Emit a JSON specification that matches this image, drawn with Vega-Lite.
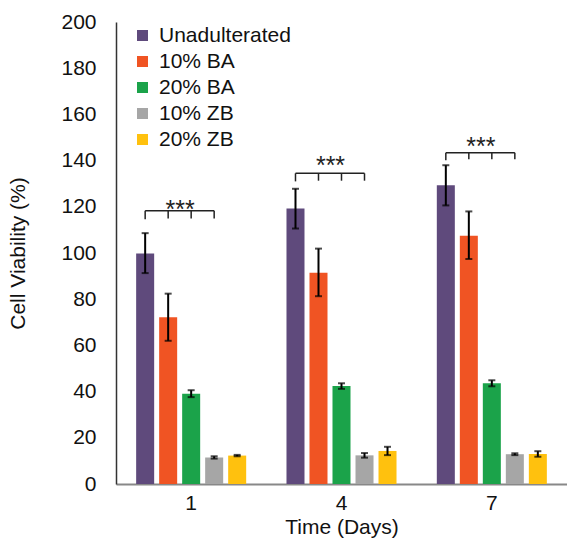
{
  "$schema": "https://vega.github.io/schema/vega-lite/v6.json",
  "autosize": {"type": "none"},
  "padding": {"left": 116, "top": 22, "right": 0, "bottom": 57},
  "width": 451,
  "height": 462,
  "background": "white",
  "config": {
    "view": {"stroke": null},
    "font": "Liberation Sans",
    "axis": {"labelFont": "Liberation Sans", "titleFont": "Liberation Sans", "labelColor": "#111", "titleColor": "#111", "titleFontWeight": "normal", "grid": false, "tickSize": 0},
    "legend": {"labelFont": "Liberation Sans"}
  },
  "datasets": {
    "bars": [
      {"day": "1", "group": "Unadulterated", "value": 99.8, "lo": 91.3, "hi": 108.6},
      {"day": "1", "group": "10% BA", "value": 72.2, "lo": 62.0, "hi": 82.4},
      {"day": "1", "group": "20% BA", "value": 39.1, "lo": 37.6, "hi": 40.6},
      {"day": "1", "group": "10% ZB", "value": 11.5, "lo": 11.0, "hi": 12.0},
      {"day": "1", "group": "20% ZB", "value": 12.3, "lo": 12.0, "hi": 12.6},
      {"day": "4", "group": "Unadulterated", "value": 119.3, "lo": 110.6, "hi": 127.8},
      {"day": "4", "group": "10% BA", "value": 91.5, "lo": 81.3, "hi": 101.9},
      {"day": "4", "group": "20% BA", "value": 42.4, "lo": 41.2, "hi": 43.6},
      {"day": "4", "group": "10% ZB", "value": 12.4, "lo": 11.4, "hi": 13.4},
      {"day": "4", "group": "20% ZB", "value": 14.3, "lo": 12.5, "hi": 16.1},
      {"day": "7", "group": "Unadulterated", "value": 129.3, "lo": 120.6, "hi": 138.0},
      {"day": "7", "group": "10% BA", "value": 107.5, "lo": 97.4, "hi": 118.0},
      {"day": "7", "group": "20% BA", "value": 43.6, "lo": 42.3, "hi": 44.9},
      {"day": "7", "group": "10% ZB", "value": 12.9, "lo": 12.5, "hi": 13.3},
      {"day": "7", "group": "20% ZB", "value": 13.0, "lo": 11.8, "hi": 14.2}
    ],
    "ticks": [
      {"day": "1", "group": "Unadulterated", "top": 118.3, "bottom": 114.6},
      {"day": "1", "group": "10% BA", "top": 118.3, "bottom": 114.9},
      {"day": "1", "group": "20% BA", "top": 118.3, "bottom": 114.9},
      {"day": "1", "group": "10% ZB", "top": 118.3, "bottom": 114.9},
      {"day": "4", "group": "Unadulterated", "top": 134.5, "bottom": 131.0},
      {"day": "4", "group": "10% BA", "top": 134.5, "bottom": 131.3},
      {"day": "4", "group": "20% BA", "top": 134.5, "bottom": 131.3},
      {"day": "4", "group": "10% ZB", "top": 134.5, "bottom": 131.3},
      {"day": "7", "group": "Unadulterated", "top": 143.4, "bottom": 140.2},
      {"day": "7", "group": "10% BA", "top": 143.4, "bottom": 140.6},
      {"day": "7", "group": "20% BA", "top": 143.4, "bottom": 140.6},
      {"day": "7", "group": "10% ZB", "top": 143.4, "bottom": 140.6}
    ],
    "stars": [
      {"day": "1", "group": "20% BA", "y": 120.0, "label": "***"},
      {"day": "4", "group": "20% BA", "y": 139.0, "label": "***"},
      {"day": "7", "group": "20% BA", "y": 147.2, "label": "***"}
    ]
  },
  "encoding": {
    "x": {
      "field": "day", "type": "nominal",
      "scale": {"domain": ["1", "4", "7"], "paddingInner": 0, "paddingOuter": 0},
      "axis": {"title": "Time (Days)", "labelAngle": 0, "labelFontSize": 21, "titleFontSize": 21, "labelPadding": 8, "titlePadding": 3, "domainColor": "#888", "domainWidth": 2}
    },
    "xOffset": {
      "field": "group", "type": "nominal",
      "scale": {"domain": ["Unadulterated", "10% BA", "20% BA", "10% ZB", "20% ZB"], "paddingInner": 0.217, "paddingOuter": 0.876}
    }
  },
  "layer": [
    {
      "data": {"name": "bars"},
      "mark": {"type": "bar"},
      "encoding": {
        "y": {
          "field": "value", "type": "quantitative",
          "scale": {"domain": [0, 200], "nice": false},
          "axis": {"title": "Cell Viability (%)", "values": [0, 20, 40, 60, 80, 100, 120, 140, 160, 180, 200], "labelFontSize": 21, "titleFontSize": 21, "labelPadding": 20, "titlePadding": 32, "domainColor": "#333", "domainWidth": 1.5}
        },
        "color": {
          "field": "group", "type": "nominal",
          "scale": {"domain": ["Unadulterated", "10% BA", "20% BA", "10% ZB", "20% ZB"], "range": ["#5F4A7C", "#F05423", "#1BA34A", "#A6A6A6", "#FFC10E"]},
          "legend": {"title": null, "orient": "none", "legendX": 16, "legendY": 3, "symbolType": "square", "symbolSize": 121, "symbolStrokeWidth": 0, "labelFontSize": 21, "labelOffset": 6, "rowPadding": 4, "padding": 0, "labelColor": "#111"}
        }
      }
    },
    {
      "data": {"name": "bars"},
      "mark": {"type": "rule", "color": "black", "strokeWidth": 2},
      "encoding": {
        "y": {"field": "lo", "type": "quantitative"},
        "y2": {"field": "hi"}
      }
    },
    {
      "data": {"name": "bars"},
      "mark": {"type": "tick", "color": "black", "thickness": 2, "size": 7},
      "encoding": {"y": {"field": "lo", "type": "quantitative"}}
    },
    {
      "data": {"name": "bars"},
      "mark": {"type": "tick", "color": "black", "thickness": 2, "size": 7},
      "encoding": {"y": {"field": "hi", "type": "quantitative"}}
    },
    {
      "data": {"name": "ticks"},
      "mark": {"type": "rule", "color": "#222", "strokeWidth": 1.5},
      "encoding": {
        "y": {"field": "top", "type": "quantitative"},
        "y2": {"field": "bottom"}
      }
    },
    {
      "data": {"name": "ticks"},
      "transform": [{"filter": "datum.group === 'Unadulterated' || datum.group === '10% ZB'"}],
      "mark": {"type": "line", "color": "#222", "strokeWidth": 1.5},
      "encoding": {
        "y": {"field": "top", "type": "quantitative"},
        "detail": {"field": "day"}
      }
    },
    {
      "data": {"name": "stars"},
      "mark": {"type": "text", "fontSize": 25, "dx": -11, "dy": 3, "baseline": "middle", "color": "#222", "letterSpacing": 1},
      "encoding": {
        "y": {"field": "y", "type": "quantitative"},
        "text": {"field": "label"}
      }
    },
    {
      "mark": {"type": "rule", "color": "#666", "strokeWidth": 1.5},
      "encoding": {"y": {"datum": 200}}
    }
  ]
}
